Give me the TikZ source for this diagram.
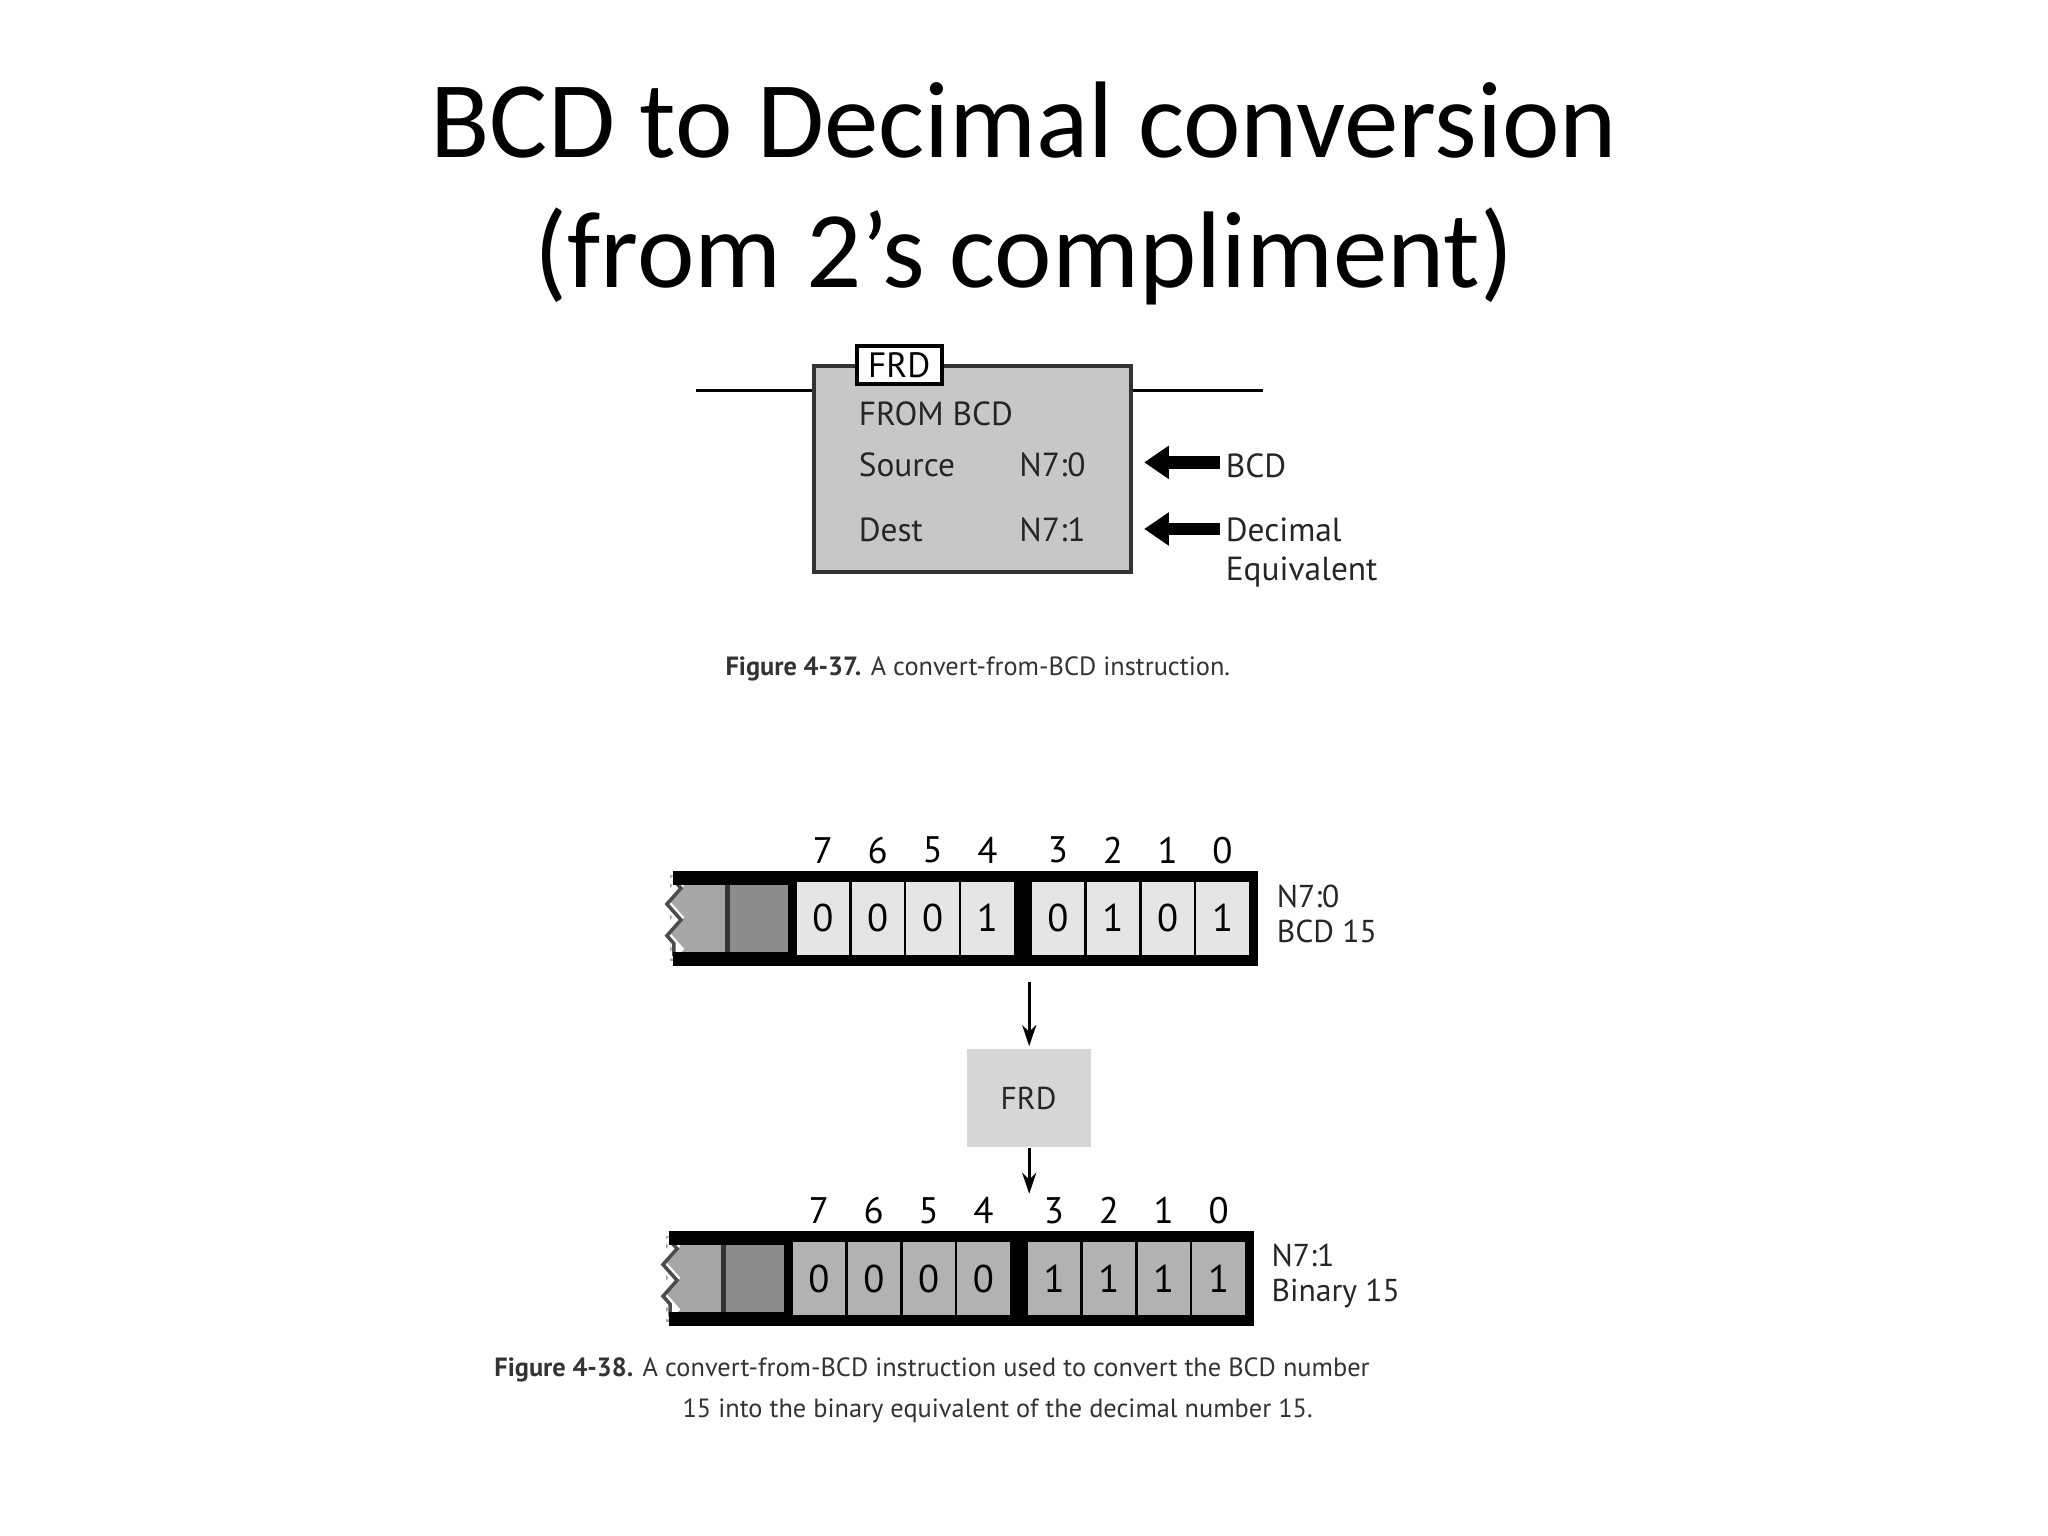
\documentclass[tikz,border=0pt]{standalone}
\usepackage{fontspec}
\setmainfont{Carlito}
\newfontfamily\figfont{PT Sans}
\usetikzlibrary{arrows.meta,decorations.pathmorphing}
\begin{document}
\begin{tikzpicture}[x=0.013061cm,y=-0.013061cm,
  lbl/.style={font=\figfont\fontsize{9.5}{11}\selectfont,text=black!85,inner sep=0pt},
  bitnum/.style={font=\figfont\fontsize{10.5}{12}\selectfont,inner sep=0pt},
  bitval/.style={font=\figfont\fontsize{11}{12}\selectfont,inner sep=0pt},
  figcap/.style={font=\figfont\fontsize{7.5}{9}\selectfont,text=black!80,inner sep=0pt,anchor=west},
  fat/.style={-{Triangle[length=7pt,width=9pt]},line width=3.5pt},
  thin/.style={-{Stealth[length=6pt,width=4pt]},line width=0.9pt}]
\useasboundingbox (0,0) rectangle (1568,1176);
% title
\node[font=\fontsize{31}{37}\selectfont,align=center] (title) at (784,148) {BCD to Decimal conversion\\(from 2’s compliment)};
% FRD instruction block
\draw[line width=1pt] (533,299) -- (623,299);
\draw[line width=1pt] (866,299) -- (967,299);
\fill[black!22,draw=black!80,line width=1.2pt] (623,280) rectangle (866,438);
\node[draw=black,fill=white,line width=1pt,minimum width=0.85cm,minimum height=0.38cm,inner sep=0pt,font=\figfont\fontsize{10}{12}\selectfont] (frdlbl) at (688.5,279.5) {FRD};
\node[lbl,anchor=west] (from) at (657,317) {FROM BCD};
\node[lbl,anchor=west] (src) at (657,356) {Source};
\node[lbl,anchor=west] (srcv) at (780,356) {N7:0};
\node[lbl,anchor=west] (dst) at (657,406) {Dest};
\node[lbl,anchor=west] (dstv) at (780,406) {N7:1};
\node[lbl,anchor=west] (bcd) at (938,357) {BCD};
\node[lbl,anchor=north west,align=left] (dec) at (938,396) {Decimal\\Equivalent};
\coordinate (a1) at (934,354); \coordinate (a1e) at (876,354);
\coordinate (a2) at (934,405); \coordinate (a2e) at (876,405);
\draw[fat] (a1) -- (a1e);
\draw[fat] (a2) -- (a2e);
\node[figcap] (cap1) at (555,512) {\textbf{Figure 4-37.} A convert-from-BCD instruction.};
% registers
\newcommand{\register}[5]{% #1 xoff #2 ytop #3 fill #4 bits #5 name
  \begin{scope}[shift={(#1,#2)}]
    \fill[black!35] (0,0) rectangle (44,66);
    \fill[black!45] (44,0) rectangle (90,66);
    \fill[black] (90,0) rectangle (450,66);
    \fill[black!80] (42,0) rectangle (46,66);
    \draw[white,line width=2.5pt,decorate,decoration={zigzag,segment length=9pt,amplitude=2pt}] (1,2) -- (1,64);
    \draw[black!70,line width=1pt,decorate,decoration={zigzag,segment length=9pt,amplitude=2pt}] (3,4) -- (3,62);
    \draw[black,line width=4pt] (2,2) -- (450,2) (2,64) -- (450,64);
    \foreach \b [count=\i from 0] in {#4}{
      \pgfmathsetmacro{\cx}{\i<4 ? 97+\i*42 : 277+(\i-4)*42}
      \fill[#3] (\cx,5) rectangle ++(40,56);
      \node[bitval] (#5v\i) at (\cx+20,33) {\b};
      \pgfmathtruncatemacro{\bn}{7-\i}
      \node[bitnum] (#5n\i) at (\cx+20,-19) {\bn};
    }
  \end{scope}}
\register{513}{670}{black!10}{0,0,0,1,0,1,0,1}{r}
\register{510}{946}{black!30}{0,0,0,0,1,1,1,1}{s}
\node[lbl,anchor=north west,align=left,font=\figfont\fontsize{9}{10}\selectfont] (rl) at (977,677) {N7:0\\BCD 15};
\node[lbl,anchor=north west,align=left,font=\figfont\fontsize{9}{10}\selectfont] (sl) at (973,952) {N7:1\\Binary 15};
\fill[black!16] (740,803) rectangle (835,878);
\node[lbl,font=\figfont\fontsize{9}{10}\selectfont] (frdt) at (787.5,841) {FRD};
\coordinate (t1) at (788,752);
\coordinate (t2) at (788,801);
\coordinate (t3) at (788,879);
\coordinate (t4) at (788,914);
\draw[thin] (t1) -- (t2);
\draw[thin] (t3) -- (t4);
\node[figcap] (cap2) at (378,1049) {\textbf{Figure 4-38.} A convert-from-BCD instruction used to convert the BCD number};
\node[figcap] (cap3) at (522,1080) {15 into the binary equivalent of the decimal number 15.};
\end{tikzpicture}
\end{document}
